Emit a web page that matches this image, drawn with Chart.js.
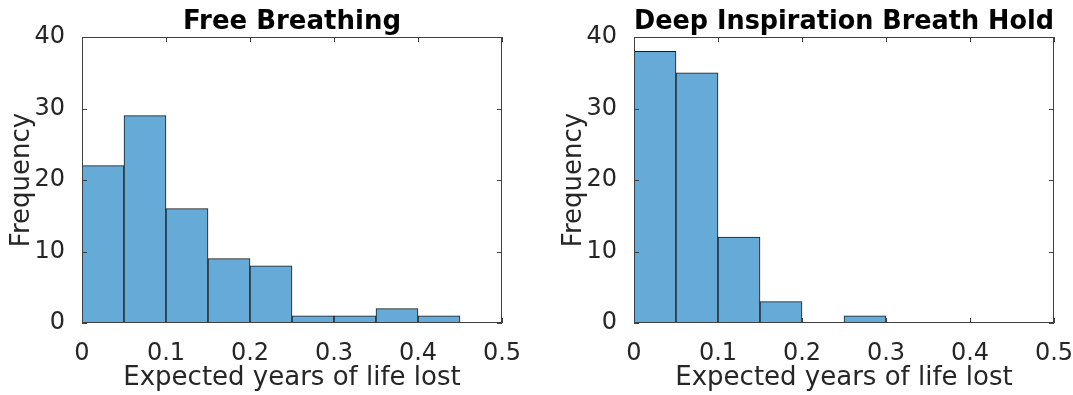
<!DOCTYPE html>
<html>
<head>
<meta charset="utf-8">
<script src="https://cdn.jsdelivr.net/npm/chart.js@4/dist/chart.umd.min.js"></script>
<style>
    body { margin: 0; background: #fff; width: 1073px; height: 395px; overflow: hidden; position: relative; }
    canvas { position: absolute; top: 0; }
    #chartFree { left: 0; }
    #chartDibh { left: 552px; }
</style>
</head>
<body>
<canvas id="chartFree" width="540" height="395"></canvas>
<canvas id="chartDibh" width="521" height="395"></canvas>
<script>
// histogram bins: 0 to 0.5, width 0.05 (bin centres)
const binCenters = [0.025, 0.075, 0.125, 0.175, 0.225, 0.275, 0.325, 0.375, 0.425, 0.475];
const freeBreathing = [22, 29, 16, 9, 8, 1, 1, 2, 1, 0];
const deepInspiration = [38, 35, 12, 3, 0, 1, 0, 0, 0, 0];
const xTicks = [0, 0.1, 0.2, 0.3, 0.4, 0.5];
const yTicks = [0, 10, 20, 30, 40];

const textColor = '#262626';
const barColor = 'rgb(102, 170, 215)';

// matlab style box with inward ticks on all four sides
const boxPlugin = {
    id: 'box',
    afterDatasetsDraw(chart) {
        const c = chart.ctx;
        const a = chart.chartArea;
        const xs = chart.scales.x;
        const ys = chart.scales.y;
        const len = 5;
        c.save();
        c.strokeStyle = '#404040';
        c.lineWidth = 1;
        c.strokeRect(a.left + 0.5, a.top + 0.5, a.right - a.left - 1, a.bottom - a.top - 1);
        c.beginPath();
        xTicks.forEach(function (v) {
            const px = Math.round(xs.getPixelForValue(v)) + 0.5;
            c.moveTo(px, a.bottom); c.lineTo(px, a.bottom - len);
            c.moveTo(px, a.top); c.lineTo(px, a.top + len);
        });
        yTicks.forEach(function (v) {
            const py = Math.round(ys.getPixelForValue(v)) + 0.5;
            c.moveTo(a.left, py); c.lineTo(a.left + len, py);
            c.moveTo(a.right, py); c.lineTo(a.right - len, py);
        });
        c.stroke();
        c.restore();
    }
};

function makeChart(id, title, counts, padRight) {
    const ctx = document.getElementById(id).getContext('2d');
    const data = {
        datasets: [{
            data: binCenters.map(function (x, i) { return { x: x, y: counts[i] }; }),
            backgroundColor: barColor,
            borderColor: '#1a1a1a',
            borderWidth: 1,
            barPercentage: 1,
            categoryPercentage: 1
        }]
    };
    const config = {
        type: 'bar',
        data: data,
        options: {
            responsive: false,
            animation: false,
            layout: { padding: { left: 0, right: padRight, top: 0, bottom: 0 } },
            plugins: {
                legend: { display: false },
                tooltip: { enabled: false },
                title: {
                    display: true,
                    text: title,
                    fullSize: false,
                    color: '#000',
                    font: { family: 'DejaVu Sans', size: 26, weight: 'bold', lineHeight: 1.1 },
                    padding: { top: 8, bottom: 0.4 }
                }
            },
            scales: {
                x: {
                    type: 'linear',
                    min: 0,
                    max: 0.5,
                    offset: false,
                    grid: { display: false },
                    border: { display: false },
                    afterBuildTicks: function (s) { s.ticks = xTicks.map(function (v) { return { value: v }; }); },
                    afterFit: function (s) {
                        s.height = 72;
                        // let the last label run off the edge like the original
                        s.paddingLeft = 0;
                        s.paddingRight = 0;
                    },
                    ticks: {
                        color: textColor,
                        padding: 8,
                        maxRotation: 0,
                        font: { family: 'DejaVu Sans', size: 24 },
                        callback: function (v) { return String(+v.toFixed(2)); }
                    },
                    title: {
                        display: true,
                        text: 'Expected years of life lost',
                        color: textColor,
                        font: { family: 'DejaVu Sans', size: 26 },
                        padding: { top: 0, bottom: 1 }
                    }
                },
                y: {
                    min: 0,
                    max: 40,
                    grid: { display: false },
                    border: { display: false },
                    afterBuildTicks: function (s) { s.ticks = yTicks.map(function (v) { return { value: v }; }); },
                    afterFit: function (s) { s.width = 82; },
                    ticks: {
                        color: textColor,
                        padding: 9,
                        font: { family: 'DejaVu Sans', size: 24 }
                    },
                    title: {
                        display: true,
                        text: 'Frequency',
                        color: textColor,
                        font: { family: 'DejaVu Sans', size: 26 },
                        padding: { top: 7, bottom: 0 }
                    }
                }
            }
        },
        plugins: [boxPlugin]
    };
    return new Chart(ctx, config);
}

const chartFree = makeChart('chartFree', 'Free Breathing', freeBreathing, 38);
const chartDibh = makeChart('chartDibh', 'Deep Inspiration Breath Hold', deepInspiration, 19);
</script>
</body>
</html>
